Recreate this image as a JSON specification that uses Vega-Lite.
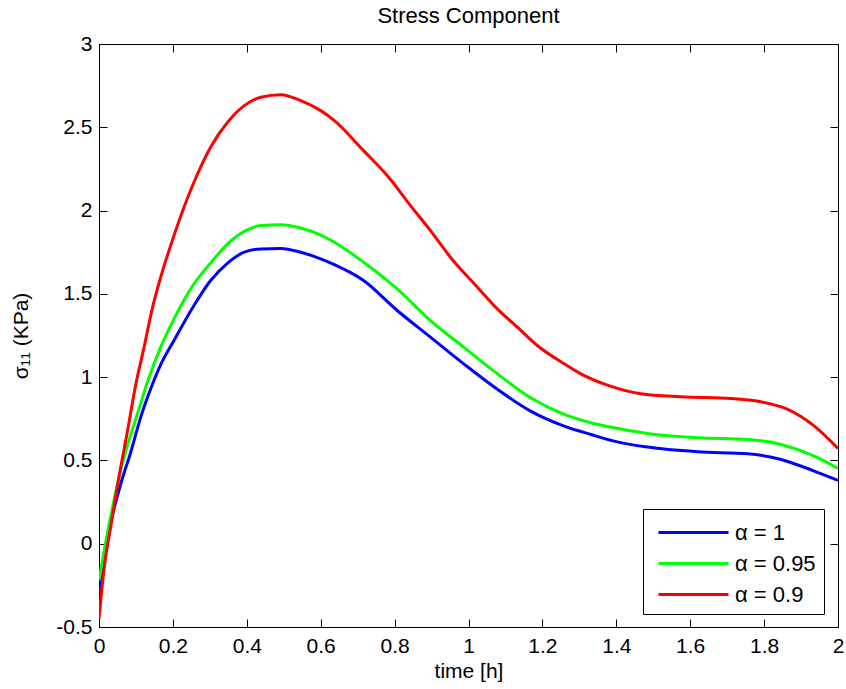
{
  "$schema": "https://vega.github.io/schema/vega-lite/v6.json",
  "width": 739,
  "height": 583,
  "autosize": {"type": "none"},
  "padding": {"left": 99, "top": 44, "right": 8, "bottom": 62},
  "background": "white",
  "title": {"text": "Stress Component", "fontSize": 22, "fontWeight": "normal", "color": "black", "offset": 5, "anchor": "middle"},
  "config": {
    "font": "Liberation Sans",
    "view": {"stroke": "black", "strokeWidth": 1},
    "axis": {"grid": false, "domainColor": "black", "tickColor": "black", "labelColor": "black", "titleColor": "black", "tickSize": -8, "labelFontSize": 21, "titleFontSize": 21, "titleFontWeight": "normal", "labelFont": "Liberation Sans", "titleFont": "Liberation Sans"}
  },
  "data": {"values": [
    {"t": 0.0, "v": -0.30, "s": "α = 1"},
    {"t": 0.015, "v": -0.05, "s": "α = 1"},
    {"t": 0.032, "v": 0.13, "s": "α = 1"},
    {"t": 0.059, "v": 0.36, "s": "α = 1"},
    {"t": 0.086, "v": 0.55, "s": "α = 1"},
    {"t": 0.113, "v": 0.76, "s": "α = 1"},
    {"t": 0.14, "v": 0.93, "s": "α = 1"},
    {"t": 0.167, "v": 1.075, "s": "α = 1"},
    {"t": 0.203, "v": 1.22, "s": "α = 1"},
    {"t": 0.257, "v": 1.43, "s": "α = 1"},
    {"t": 0.302, "v": 1.58, "s": "α = 1"},
    {"t": 0.348, "v": 1.685, "s": "α = 1"},
    {"t": 0.393, "v": 1.75, "s": "α = 1"},
    {"t": 0.438, "v": 1.77, "s": "α = 1"},
    {"t": 0.492, "v": 1.773, "s": "α = 1"},
    {"t": 0.546, "v": 1.75, "s": "α = 1"},
    {"t": 0.6, "v": 1.71, "s": "α = 1"},
    {"t": 0.637, "v": 1.675, "s": "α = 1"},
    {"t": 0.716, "v": 1.58, "s": "α = 1"},
    {"t": 0.807, "v": 1.40, "s": "α = 1"},
    {"t": 0.897, "v": 1.24, "s": "α = 1"},
    {"t": 0.987, "v": 1.08, "s": "α = 1"},
    {"t": 1.078, "v": 0.927, "s": "α = 1"},
    {"t": 1.168, "v": 0.796, "s": "α = 1"},
    {"t": 1.259, "v": 0.706, "s": "α = 1"},
    {"t": 1.331, "v": 0.656, "s": "α = 1"},
    {"t": 1.394, "v": 0.616, "s": "α = 1"},
    {"t": 1.484, "v": 0.58, "s": "α = 1"},
    {"t": 1.62, "v": 0.552, "s": "α = 1"},
    {"t": 1.755, "v": 0.54, "s": "α = 1"},
    {"t": 1.846, "v": 0.506, "s": "α = 1"},
    {"t": 1.936, "v": 0.436, "s": "α = 1"},
    {"t": 2.0, "v": 0.38, "s": "α = 1"},
    {"t": 0.0, "v": -0.22, "s": "α = 0.95"},
    {"t": 0.023, "v": 0.065, "s": "α = 0.95"},
    {"t": 0.05, "v": 0.36, "s": "α = 0.95"},
    {"t": 0.077, "v": 0.59, "s": "α = 0.95"},
    {"t": 0.104, "v": 0.78, "s": "α = 0.95"},
    {"t": 0.131, "v": 0.97, "s": "α = 0.95"},
    {"t": 0.167, "v": 1.18, "s": "α = 0.95"},
    {"t": 0.203, "v": 1.35, "s": "α = 0.95"},
    {"t": 0.257, "v": 1.56, "s": "α = 0.95"},
    {"t": 0.302, "v": 1.685, "s": "α = 0.95"},
    {"t": 0.348, "v": 1.80, "s": "α = 0.95"},
    {"t": 0.393, "v": 1.875, "s": "α = 0.95"},
    {"t": 0.438, "v": 1.91, "s": "α = 0.95"},
    {"t": 0.492, "v": 1.915, "s": "α = 0.95"},
    {"t": 0.546, "v": 1.895, "s": "α = 0.95"},
    {"t": 0.6, "v": 1.853, "s": "α = 0.95"},
    {"t": 0.637, "v": 1.81, "s": "α = 0.95"},
    {"t": 0.716, "v": 1.69, "s": "α = 0.95"},
    {"t": 0.807, "v": 1.53, "s": "α = 0.95"},
    {"t": 0.897, "v": 1.34, "s": "α = 0.95"},
    {"t": 0.987, "v": 1.18, "s": "α = 0.95"},
    {"t": 1.078, "v": 1.02, "s": "α = 0.95"},
    {"t": 1.168, "v": 0.876, "s": "α = 0.95"},
    {"t": 1.259, "v": 0.776, "s": "α = 0.95"},
    {"t": 1.331, "v": 0.726, "s": "α = 0.95"},
    {"t": 1.394, "v": 0.696, "s": "α = 0.95"},
    {"t": 1.484, "v": 0.662, "s": "α = 0.95"},
    {"t": 1.62, "v": 0.636, "s": "α = 0.95"},
    {"t": 1.755, "v": 0.626, "s": "α = 0.95"},
    {"t": 1.846, "v": 0.596, "s": "α = 0.95"},
    {"t": 1.936, "v": 0.526, "s": "α = 0.95"},
    {"t": 2.0, "v": 0.452, "s": "α = 0.95"},
    {"t": 0.0, "v": -0.45, "s": "α = 0.9"},
    {"t": 0.014, "v": -0.145, "s": "α = 0.9"},
    {"t": 0.032, "v": 0.107, "s": "α = 0.9"},
    {"t": 0.054, "v": 0.40, "s": "α = 0.9"},
    {"t": 0.077, "v": 0.675, "s": "α = 0.9"},
    {"t": 0.099, "v": 0.95, "s": "α = 0.9"},
    {"t": 0.122, "v": 1.18, "s": "α = 0.9"},
    {"t": 0.144, "v": 1.41, "s": "α = 0.9"},
    {"t": 0.167, "v": 1.60, "s": "α = 0.9"},
    {"t": 0.203, "v": 1.85, "s": "α = 0.9"},
    {"t": 0.23, "v": 2.02, "s": "α = 0.9"},
    {"t": 0.257, "v": 2.17, "s": "α = 0.9"},
    {"t": 0.302, "v": 2.38, "s": "α = 0.9"},
    {"t": 0.348, "v": 2.53, "s": "α = 0.9"},
    {"t": 0.393, "v": 2.63, "s": "α = 0.9"},
    {"t": 0.438, "v": 2.68, "s": "α = 0.9"},
    {"t": 0.492, "v": 2.695, "s": "α = 0.9"},
    {"t": 0.546, "v": 2.66, "s": "α = 0.9"},
    {"t": 0.6, "v": 2.60, "s": "α = 0.9"},
    {"t": 0.637, "v": 2.54, "s": "α = 0.9"},
    {"t": 0.716, "v": 2.36, "s": "α = 0.9"},
    {"t": 0.784, "v": 2.20, "s": "α = 0.9"},
    {"t": 0.843, "v": 2.03, "s": "α = 0.9"},
    {"t": 0.897, "v": 1.88, "s": "α = 0.9"},
    {"t": 0.951, "v": 1.72, "s": "α = 0.9"},
    {"t": 1.024, "v": 1.54, "s": "α = 0.9"},
    {"t": 1.078, "v": 1.41, "s": "α = 0.9"},
    {"t": 1.132, "v": 1.30, "s": "α = 0.9"},
    {"t": 1.186, "v": 1.19, "s": "α = 0.9"},
    {"t": 1.259, "v": 1.08, "s": "α = 0.9"},
    {"t": 1.304, "v": 1.02, "s": "α = 0.9"},
    {"t": 1.376, "v": 0.952, "s": "α = 0.9"},
    {"t": 1.466, "v": 0.90, "s": "α = 0.9"},
    {"t": 1.575, "v": 0.882, "s": "α = 0.9"},
    {"t": 1.71, "v": 0.872, "s": "α = 0.9"},
    {"t": 1.791, "v": 0.852, "s": "α = 0.9"},
    {"t": 1.864, "v": 0.806, "s": "α = 0.9"},
    {"t": 1.936, "v": 0.706, "s": "α = 0.9"},
    {"t": 2.0, "v": 0.572, "s": "α = 0.9"}
  ]},
  "layer": [
    {
      "mark": {"type": "line", "strokeWidth": 3, "clip": true, "interpolate": "monotone"},
      "encoding": {
        "x": {"field": "t", "type": "quantitative", "scale": {"domain": [0, 2], "nice": false, "zero": false},
              "axis": {"orient": "bottom", "title": "time [h]", "values": [0, 0.2, 0.4, 0.6, 0.8, 1, 1.2, 1.4, 1.6, 1.8, 2], "format": ".1~f", "labelPadding": 16, "titlePadding": 4, "labelFlush": false}},
        "y": {"field": "v", "type": "quantitative", "scale": {"domain": [-0.5, 3], "nice": false, "zero": false},
              "axis": {"orient": "left", "title": "σ₁₁ (KPa)", "values": [-0.5, 0, 0.5, 1, 1.5, 2, 2.5, 3], "format": ".1~f", "labelExpr": "replace(datum.label, '−', '-')", "labelPadding": 15, "titlePadding": 24, "labelFlush": false}},
        "color": {"field": "s", "type": "nominal", "sort": ["α = 1", "α = 0.95", "α = 0.9"],
                  "scale": {"domain": ["α = 1", "α = 0.95", "α = 0.9"], "range": ["#0000ff", "#00ff00", "#ff0000"]},
                  "legend": {"title": null, "orient": "none", "legendX": 544, "legendY": 465, "strokeColor": "black", "fillColor": "white", "padding": 8, "symbolType": "M-2.5,0L2.5,0", "symbolSize": 784, "symbolStrokeWidth": 3, "symbolOffset": 27, "labelFontSize": 22, "labelColor": "black", "labelOffset": 26, "rowPadding": 4, "cornerRadius": 0}}
      }
    },
    {
      "mark": {"type": "line", "opacity": 0},
      "encoding": {
        "x": {"field": "t", "type": "quantitative", "axis": {"orient": "top", "title": null, "labels": false, "values": [0, 0.2, 0.4, 0.6, 0.8, 1, 1.2, 1.4, 1.6, 1.8, 2]}},
        "y": {"field": "v", "type": "quantitative", "axis": {"orient": "right", "title": null, "labels": false, "values": [-0.5, 0, 0.5, 1, 1.5, 2, 2.5, 3]}}
      }
    }
  ],
  "resolve": {"axis": {"x": "independent", "y": "independent"}}
}
